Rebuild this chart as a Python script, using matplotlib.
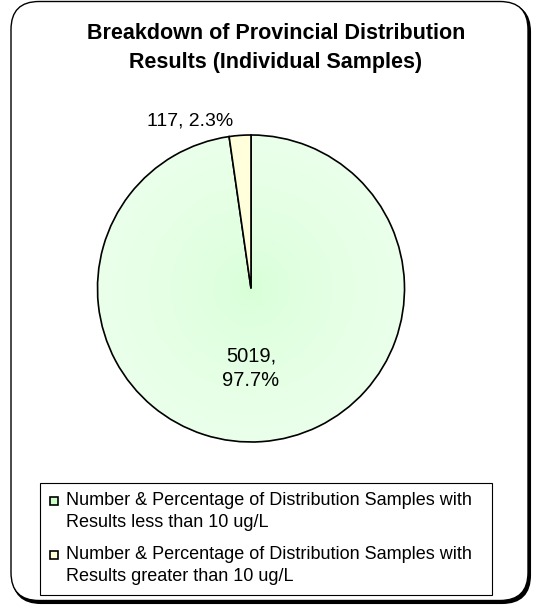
import numpy as np
import matplotlib.pyplot as plt
from matplotlib.patches import FancyBboxPatch, Rectangle

plt.rcParams['font.family'] = ['Liberation Sans', 'DejaVu Sans']

# data
counts = [5019, 117]
percents = [97.7, 2.3]
colors = ['#E4FFE4', '#FFFFDC']
swatch_colors = ['#CCFFCC', '#FFFFDC']
legend_labels = [
    'Number & Percentage of Distribution Samples with\nResults less than 10 ug/L',
    'Number & Percentage of Distribution Samples with\nResults greater than 10 ug/L',
]
title = 'Breakdown of Provincial Distribution\nResults (Individual Samples)'

W, H = 534, 605
fig = plt.figure(figsize=(W / 100, H / 100), dpi=100)
ax = fig.add_axes([0, 0, 1, 1])

# outer rounded frame with drop shadow
shadow = FancyBboxPatch((13, 2), 517, 599, boxstyle='round,pad=0,rounding_size=28',
                        facecolor='black', edgecolor='black', lw=1.5, zorder=0)
frame = FancyBboxPatch((11, 4.5), 517, 599, boxstyle='round,pad=0,rounding_size=28',
                       facecolor='white', edgecolor='black', lw=1.0, zorder=1)
ax.add_patch(shadow)
ax.add_patch(frame)

ax.text(276, H - 48, title, ha='center', va='center', fontsize=15.5,
        fontweight='bold', linespacing=1.5, zorder=5)

# pie
cx, cy, r = 251, H - 288.5, 153.5
wedges, _ = ax.pie(counts, colors=colors, startangle=90, counterclock=False,
                   center=(cx, cy), radius=r, frame=True,
                   wedgeprops=dict(edgecolor='black', linewidth=1.2, zorder=3))

# soft radial shading on the large slice
yy, xx = np.mgrid[-1:1:400j, -1:1:400j]
rr = np.clip(np.hypot(xx, yy), 0, 1)
c0 = np.array([212, 255, 212]) / 255
c1 = np.array([234, 255, 234]) / 255
img = c0 + (c1 - c0) * rr[..., None] ** 0.5
im = ax.imshow(img, extent=(cx - r, cx + r, cy - r, cy + r), origin='lower',
               zorder=3.5, interpolation='bilinear')
im.set_clip_path(wedges[0])
for w in wedges:
    w.set_zorder(4)
wedges[0].set_facecolor('none')

ax.set_xlim(0, W)
ax.set_ylim(0, H)
ax.set_aspect('auto')
ax.axis('off')

# slice labels
ax.text(cx, H - 368, f'{counts[0]},\n{percents[0]}%', ha='center', va='center',
        fontsize=14.5, linespacing=1.35, zorder=6)
ax.text(190, H - 121, f'{counts[1]}, {percents[1]}%', ha='center', va='center',
        fontsize=14, zorder=6)

# legend box drawn by hand so the swatch sits on the first text line
ax.add_patch(Rectangle((40, H - 595), 452, 112, facecolor='white',
                       edgecolor='black', lw=0.8, zorder=9))
first_line = [501, 555]
for y, lab, c in zip(first_line, legend_labels, swatch_colors):
    ax.add_patch(Rectangle((50, H - y - 4), 8, 8, facecolor=c,
                           edgecolor='black', lw=1.2, zorder=10))
    # top of the text block sits ~9px above the first line's centre
    ax.text(66, H - y + 9, lab, ha='left', va='top', fontsize=13,
            linespacing=1.42, zorder=10)

fig.savefig('out.png', dpi=100)
